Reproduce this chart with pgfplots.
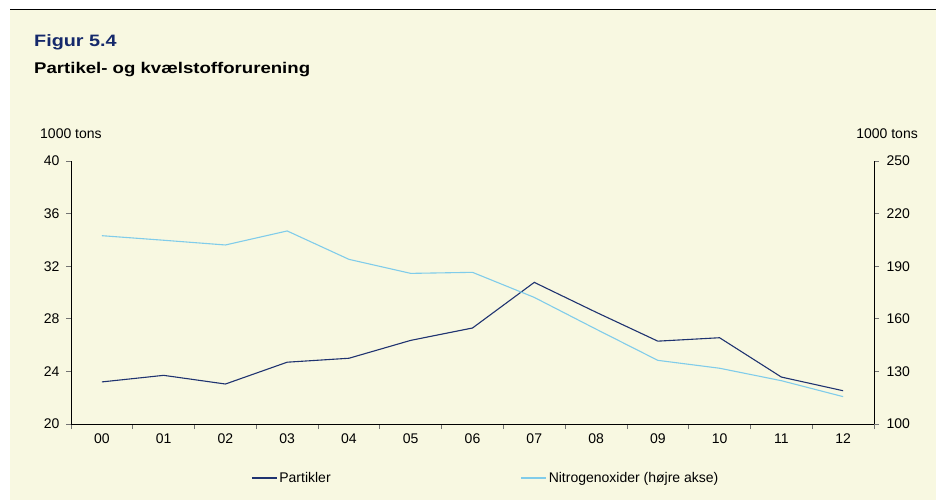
\documentclass[border=0pt]{standalone}
\usepackage{fontspec}
\setmainfont{Liberation Sans}
\newfontfamily\titlefont[FakeStretch=1.2]{Liberation Sans}
\usepackage{pgfplots}
\pgfplotsset{compat=1.18}
\definecolor{bg}{HTML}{F8F8E1}
\definecolor{navy}{HTML}{1F3370}
\definecolor{lblue}{HTML}{80CCEA}
\definecolor{titleblue}{HTML}{15296B}
\begin{document}
\begin{tikzpicture}[x=1pt,y=1pt]
\useasboundingbox (0,0) rectangle (936,500);
\fill[white] (0,0) rectangle (936,500);
\fill[bg] (10,0) rectangle (936,490);
\draw[black,line width=1pt] (10,490) -- (936,490);
\node[anchor=base west,inner sep=0pt,text=titleblue] at (34,453) {\titlefont\bfseries\fontsize{16.5}{18}\selectfont Figur 5.4};
\node[anchor=base west,inner sep=0pt] at (34,426) {\titlefont\bfseries\fontsize{15.5}{17}\selectfont Partikel- og kvælstofforurening};
\node[anchor=base west,inner sep=0pt] at (40,361) {\fontsize{14}{16}\selectfont 1000 tons};
\node[anchor=base east,inner sep=0pt] at (918,361) {\fontsize{14}{16}\selectfont 1000 tons};
\pgfplotsset{common/.style={
  at={(71pt,76pt)},anchor=south west,
  width=803pt,height=263pt,scale only axis,
  xmin=-0.5,xmax=12.5,
  tick align=outside,
  font=\fontsize{14}{16}\selectfont,
  /pgf/number format/assume math mode=true,
  axis line style={black,line width=0.9pt},
  tick style={black!55,line width=0.8pt},
  major tick length=5pt, minor tick length=5pt,
}}
\begin{axis}[common,
  ymin=20,ymax=40,ytick={20,24,...,40},
  yticklabel style={xshift=-3pt},
  xtick={0,...,12},
  xticklabels={00,01,02,03,04,05,06,07,08,09,10,11,12},
  xticklabel style={yshift=-1.5pt},
  minor xtick={-0.5,0.5,...,12.5},
  major x tick style={draw=none},
  axis x line*=bottom, axis y line*=left,
  legend columns=2,
  legend style={draw=none,fill=none,at={(0.2242,-0.2053)},anchor=west,
    inner sep=0pt,font=\fontsize{14}{16}\selectfont,
    /tikz/every even column/.append style={column sep=188pt}},
  legend image code/.code={\draw[#1] (0pt,0pt) -- (25pt,0pt);},
]
\addplot[navy,line width=1.1pt] coordinates {(0,23.2)(1,23.7)(2,23.04)(3,24.7)(4,25.0)(5,26.36)(6,27.3)(7,30.77)(8,28.5)(9,26.3)(10,26.56)(11,23.57)(12,22.53)};
\addlegendentry{Partikler}
\addlegendimage{lblue,line width=1.1pt}
\addlegendentry{Nitrogenoxider (højre akse)}
\end{axis}
\begin{axis}[common,
  ymin=100,ymax=250,ytick={100,130,...,250},
  yticklabel style={xshift=4pt},
  axis y line*=right, axis x line=none,
]
\addplot[lblue,line width=1.1pt] coordinates {(0,207.4)(1,204.8)(2,202.1)(3,210.1)(4,193.9)(5,185.9)(6,186.5)(7,172.2)(8,154.1)(9,136.3)(10,131.8)(11,124.7)(12,115.6)};
\end{axis}
\end{tikzpicture}
\end{document}
